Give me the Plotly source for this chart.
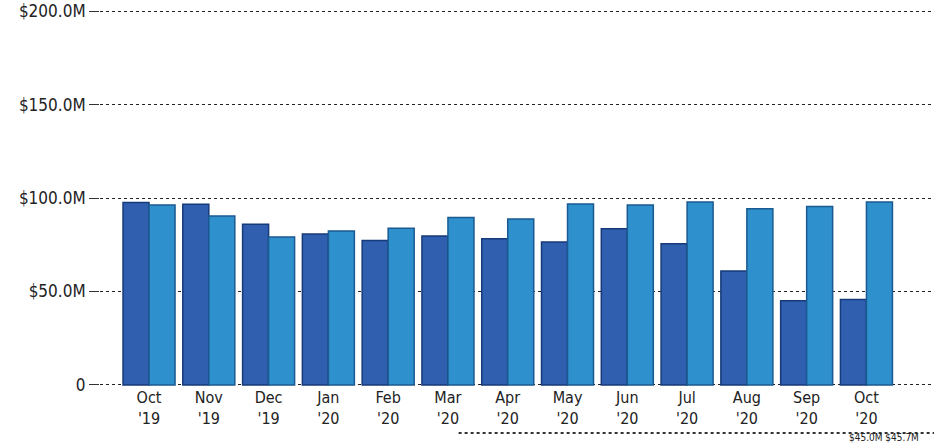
import plotly.graph_objects as go

months = ["Oct<br>'19", "Nov<br>'19", "Dec<br>'19", "Jan<br>'20", "Feb<br>'20", "Mar<br>'20",
          "Apr<br>'20", "May<br>'20", "Jun<br>'20", "Jul<br>'20", "Aug<br>'20", "Sep<br>'20", "Oct<br>'20"]
series_a = [97.6, 96.7, 86.0, 80.7, 77.3, 79.7, 78.2, 76.5, 83.6, 75.5, 61.0, 45.0, 45.7]
series_b = [96.3, 90.4, 79.1, 82.3, 83.8, 89.5, 88.8, 96.8, 96.3, 97.9, 94.2, 95.5, 97.9]
tick_vals = [0, 50, 100, 150, 200]
tick_text = ["0", "$50.0M", "$100.0M", "$150.0M", "$200.0M"]

x_idx = list(range(len(months)))

fig = go.Figure()
fig.add_trace(go.Bar(x=x_idx, y=series_a, name="A",
                     marker=dict(color="#2f5fae", line=dict(color="#173a78", width=1.5))))
fig.add_trace(go.Bar(x=x_idx, y=series_b, name="B",
                     marker=dict(color="#2e90cc", line=dict(color="#1a5a90", width=1.5))))

font_family = "DejaVu Sans Condensed, sans-serif"

TOP, BOTTOM, H = 10, 60, 446
plot_h = H - TOP - BOTTOM

fig.update_layout(
    width=934, height=H,
    margin=dict(l=100, r=0, t=TOP, b=BOTTOM),
    paper_bgcolor="white", plot_bgcolor="white",
    barmode="group", bargap=0.13, bargroupgap=0.0,
    showlegend=False,
    font=dict(family=font_family, size=17, color="#222"),
    xaxis=dict(
        tickmode="array", tickvals=x_idx, ticktext=months,
        range=[-0.82, 13.13], showgrid=False, zeroline=False,
        showline=False, ticks="", tickfont=dict(size=16, color="#222"),
    ),
    yaxis=dict(
        range=[-0.6, 200.6], tickmode="array", tickvals=tick_vals, ticktext=tick_text,
        showgrid=True, gridcolor="#222", griddash="dot", gridwidth=1.2,
        zeroline=False, showline=False,
        ticks="outside", ticklen=10, tickcolor="#333", tickwidth=1,
        tickfont=dict(size=17, color="#222"),
    ),
)

# data table row beneath the chart (partially visible in the reference)
line_y = -(47 / plot_h)
fig.add_shape(type="line", xref="paper", yref="paper", x0=0.43, x1=1.0, y0=line_y, y1=line_y,
              line=dict(color="#333", width=2, dash="dot"))
fig.add_annotation(xref="paper", yref="paper", x=0.985, y=-((BOTTOM - 1) / plot_h),
                   xanchor="right", yanchor="bottom",
                   text="$45.0M $45.7M", showarrow=False, font=dict(size=10, color="#222"))

fig.write_html("out.html")
